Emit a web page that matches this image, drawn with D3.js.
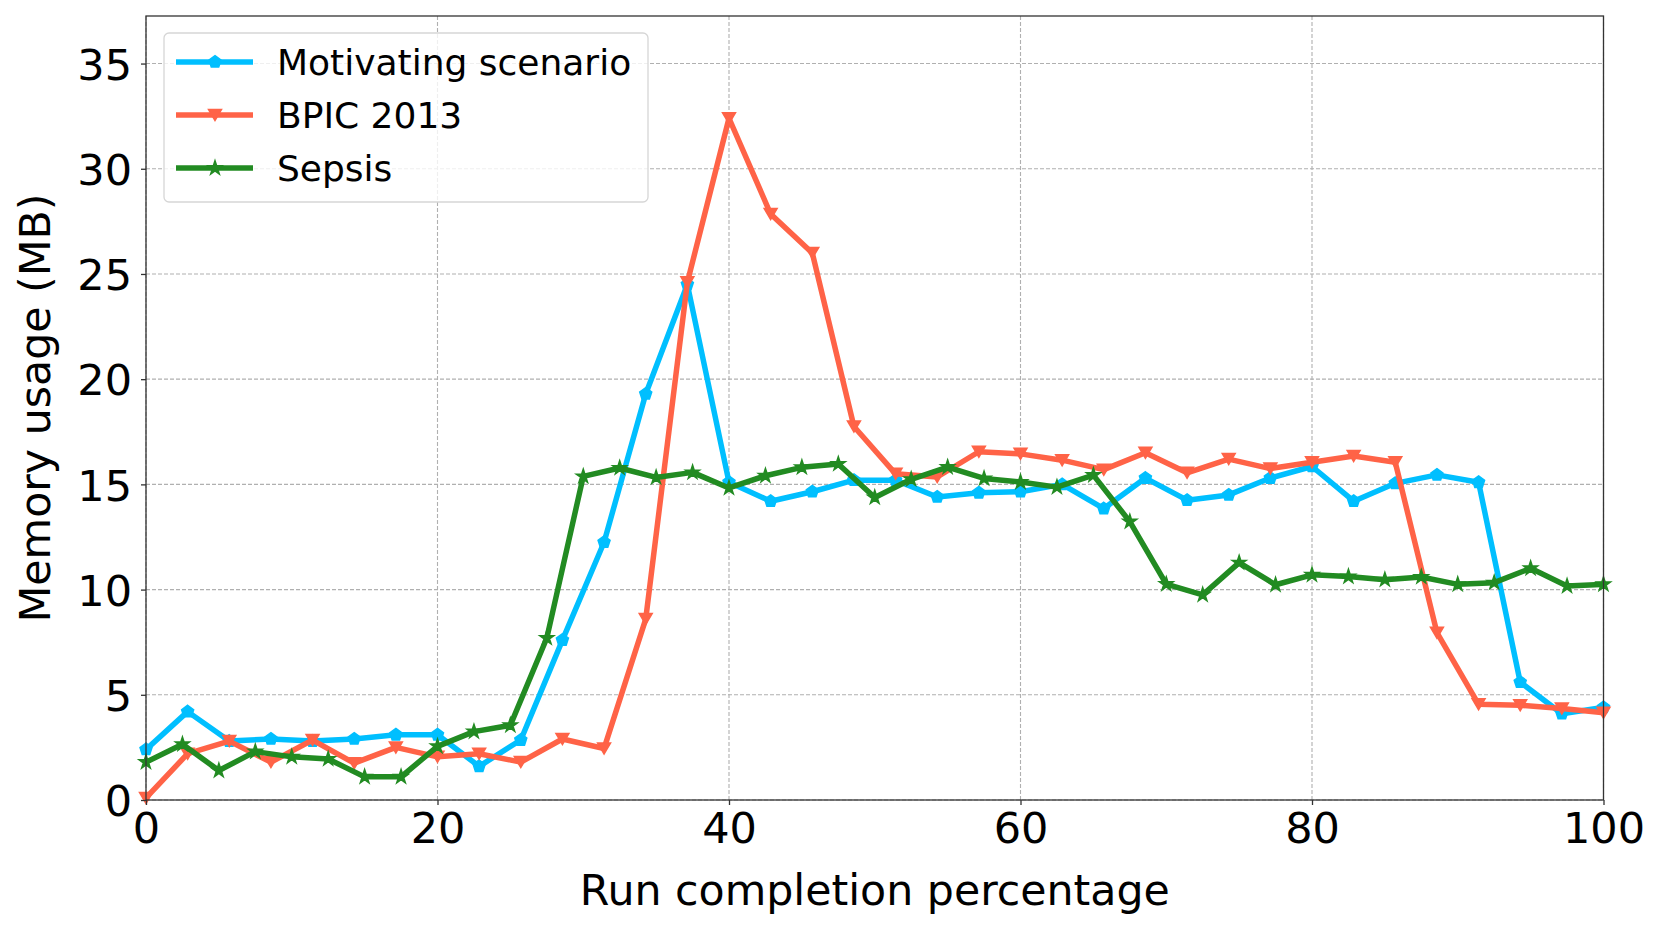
<!DOCTYPE html>
<html>
<head>
<meta charset="utf-8">
<script src="https://cdn.jsdelivr.net/npm/d3@7"></script>
<style>
  html, body { margin: 0; padding: 0; background: #fff; }
  svg { display: block; font-family: "DejaVu Sans", sans-serif; }
</style>
</head>
<body>
<svg id="chart" width="1661" height="934"></svg>
<script>
// ---- data ----
const seriesNames = ["Motivating scenario", "BPIC 2013", "Sepsis"];
const motivating = [2.4, 4.2, 2.8, 2.9, 2.8, 2.9, 3.1, 3.1, 1.6, 2.85, 7.6, 12.25, 19.3, 24.5, 15.1, 14.2, 14.65, 15.2, 15.2, 14.4, 14.6, 14.65, 15.0, 13.85, 15.3, 14.25, 14.5, 15.3, 15.85, 14.2, 15.05, 15.45, 15.1, 5.6, 4.1, 4.4];
const bpic = [0.1, 2.2, 2.8, 1.8, 2.85, 1.75, 2.5, 2.05, 2.2, 1.8, 2.9, 2.45, 8.6, 24.6, 32.4, 27.85, 26.0, 17.75, 15.5, 15.35, 16.55, 16.45, 16.15, 15.7, 16.5, 15.55, 16.2, 15.75, 16.05, 16.35, 16.05, 7.95, 4.55, 4.5, 4.35, 4.15];
const sepsis = [1.8, 2.65, 1.4, 2.3, 2.05, 1.95, 1.1, 1.1, 2.55, 3.25, 3.55, 7.7, 15.38, 15.78, 15.33, 15.57, 14.83, 15.41, 15.81, 15.97, 14.38, 15.24, 15.82, 15.28, 15.11, 14.87, 15.44, 13.23, 10.26, 9.75, 11.28, 10.23, 10.7, 10.62, 10.47, 10.6, 10.25, 10.33, 11.01, 10.17, 10.25];
const xTicks = [0, 20, 40, 60, 80, 100];
const yTicks = [0, 5, 10, 15, 20, 25, 30, 35];
const xLabel = "Run completion percentage";
const yLabel = "Memory usage (MB)";

// ---- layout ----
const W = 1661, H = 934;
const L = 146, R = 1603.5, T = 16, B = 800;
const svg = d3.select("#chart");

const x = d3.scaleLinear().domain([0, 100]).range([L, R]);
const y = d3.scaleLinear().domain([0, 37.26]).range([B, T]);

// series with evenly spaced run-completion positions (linspace 0..100)
function toPoints(vals) {
  const n = vals.length;
  return vals.map((v, i) => ({ x: i * 100 / (n - 1), y: v }));
}

// marker shapes
const pentagon = {
  draw(ctx, size) {
    const r = Math.sqrt(size);
    for (let k = 0; k < 5; k++) {
      const a = -Math.PI / 2 + k * 2 * Math.PI / 5;
      const px = r * Math.cos(a), py = r * Math.sin(a);
      if (k === 0) ctx.moveTo(px, py); else ctx.lineTo(px, py);
    }
    ctx.closePath();
  }
};
const triDown = {
  draw(ctx, size) {
    const r = Math.sqrt(size);
    ctx.moveTo(-r, -r * 0.85);
    ctx.lineTo(r, -r * 0.85);
    ctx.lineTo(0, r * 0.85);
    ctx.closePath();
  }
};

const series = [
  { name: seriesNames[0], data: toPoints(motivating), color: "#00BFFF", sym: d3.symbol().type(pentagon).size(40) },
  { name: seriesNames[1], data: toPoints(bpic), color: "#FF6347", sym: d3.symbol().type(triDown).size(42) },
  { name: seriesNames[2], data: toPoints(sepsis), color: "#228B22", sym: d3.symbol().type(d3.symbolStar).size(60) }
];

// ---- grid ----
const grid = svg.append("g");
grid.selectAll("line.gx").data(xTicks).join("line")
  .attr("x1", d => x(d)).attr("x2", d => x(d))
  .attr("y1", T).attr("y2", B)
  .attr("stroke", "#b0b0b0").attr("stroke-width", 1.1)
  .attr("stroke-dasharray", "4,2");
grid.selectAll("line.gy").data(yTicks).join("line")
  .attr("x1", L).attr("x2", R)
  .attr("y1", d => y(d)).attr("y2", d => y(d))
  .attr("stroke", "#b0b0b0").attr("stroke-width", 1.1)
  .attr("stroke-dasharray", "4,2");

// ---- lines ----
const line = d3.line().x(d => x(d.x)).y(d => y(d.y));
const plot = svg.append("g");
series.forEach(s => {
  const g = plot.append("g");
  g.append("path").datum(s.data)
    .attr("d", line)
    .attr("fill", "none")
    .attr("stroke", s.color)
    .attr("stroke-width", 5.5)
    .attr("stroke-linejoin", "round")
    .attr("stroke-linecap", "square");
  g.selectAll("path.m").data(s.data).join("path")
    .attr("class", "m")
    .attr("transform", d => `translate(${x(d.x)},${y(d.y)})`)
    .attr("d", s.sym())
    .attr("fill", s.color)
    .attr("stroke", s.color)
    .attr("stroke-width", 1.5);
});

// ---- axes ----
const axisColor = "#333";
const xAxis = svg.append("g").attr("transform", `translate(0,${B})`)
  .call(d3.axisBottom(x).tickValues(xTicks).tickSize(5).tickPadding(10).tickFormat(d3.format("d")));
const yAxis = svg.append("g").attr("transform", `translate(${L},0)`)
  .call(d3.axisLeft(y).tickValues(yTicks).tickSize(5).tickPadding(9).tickFormat(d3.format("d")));
[xAxis, yAxis].forEach(a => {
  a.select(".domain").remove();
  a.selectAll(".tick line").attr("stroke", axisColor).attr("stroke-width", 1.3);
  a.selectAll(".tick text").attr("fill", "#000")
    .style("font-family", "'DejaVu Sans', sans-serif").style("font-size", "43px");
});
xAxis.selectAll(".tick text").attr("dy", null).attr("y", 42.7);
yAxis.selectAll(".tick text").attr("dy", null).attr("dominant-baseline", null).attr("y", 15.7);

// frame
svg.append("rect").attr("x", L).attr("y", T).attr("width", R - L).attr("height", B - T)
  .attr("fill", "none").attr("stroke", axisColor).attr("stroke-width", 1.3);

// axis labels
svg.append("text").attr("x", (L + R) / 2).attr("y", 905)
  .attr("text-anchor", "middle").style("font-size", "42.7px").attr("fill", "#000")
  .text(xLabel);
svg.append("text").attr("transform", `translate(50,${(T + B) / 2}) rotate(-90)`)
  .attr("text-anchor", "middle").style("font-size", "42.7px").attr("fill", "#000")
  .text(yLabel);

// ---- legend ----
const lg = svg.append("g");
lg.append("rect").attr("x", 164).attr("y", 33).attr("width", 484).attr("height", 169)
  .attr("rx", 5).attr("ry", 5)
  .attr("fill", "#fff").attr("fill-opacity", 0.8)
  .attr("stroke", "#d6d6d6").attr("stroke-width", 1.3);
const rowY = [62, 115, 168];
series.forEach((s, i) => {
  const cy = rowY[i];
  lg.append("line").attr("x1", 176).attr("x2", 253).attr("y1", cy).attr("y2", cy)
    .attr("stroke", s.color).attr("stroke-width", 5.5);
  lg.append("path").attr("transform", `translate(215,${cy})`).attr("d", s.sym())
    .attr("fill", s.color).attr("stroke", s.color).attr("stroke-width", 1.5);
  lg.append("text").attr("x", 277).attr("y", cy + 13)
    .style("font-size", "36px").attr("fill", "#000").text(s.name);
});
</script>
</body>
</html>
